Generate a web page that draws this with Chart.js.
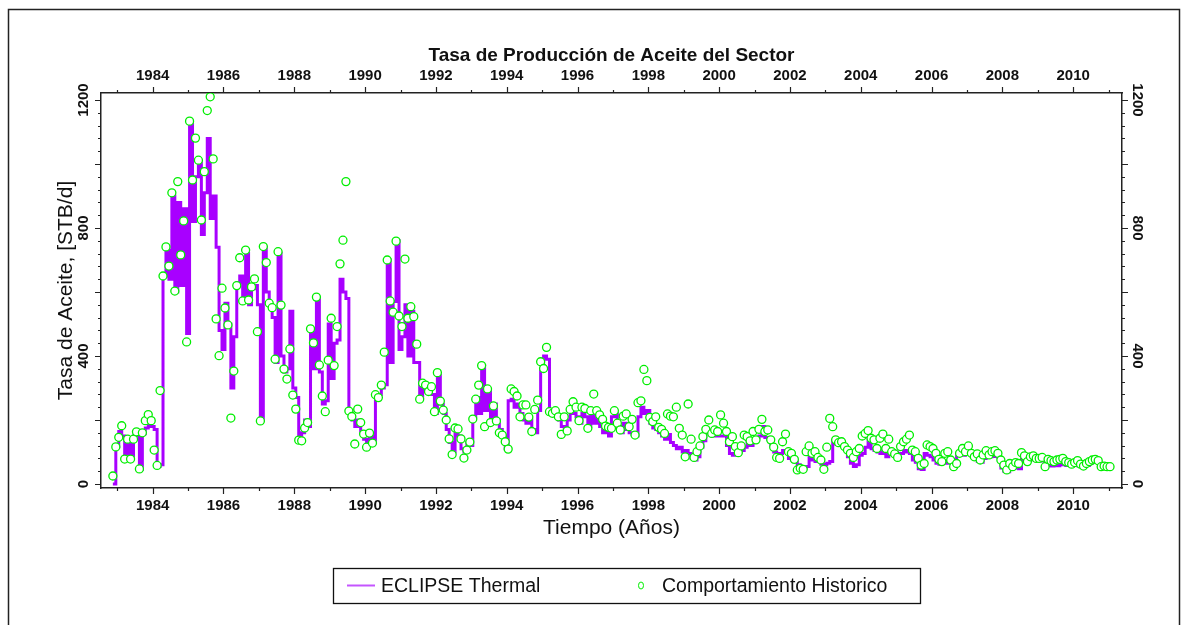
<!DOCTYPE html>
<html>
<head>
<meta charset="utf-8">
<title>Tasa de Producción de Aceite del Sector</title>
<script src="https://cdn.jsdelivr.net/npm/chart.js@4.4.1/dist/chart.umd.min.js"></script>
<style>
  html, body { margin: 0; padding: 0; background: #fff; overflow: hidden; }
  canvas { display: block; }
</style>
</head>
<body>
<canvas id="chartSector" width="1188" height="625"></canvas>
<script>
// monthly values, first one is Nov 1982
var startYear = 1982 + 10.5 / 12;

var simRate = [
  0, 117, // 1982
  164, 150, 80, 140, 80, 150, 155, 45, 157, 175, 185, 180, // 1983
  170, 55, 60, 650, 730, 640, 900, 600, 880, 620, 860, 470, // 1984
  1130, 820, 960, 1010, 780, 910, 1080, 830, 900, 740, 480, 420, // 1985
  565, 500, 300, 460, 630, 650, 580, 720, 560, 610, 620, 560, // 1986
  200, 740, 600, 560, 520, 380, 720, 400, 350, 360, 540, 300, // 1987
  270, 150, 160, 200, 180, 480, 360, 580, 350, 250, 260, 500, // 1988
  330, 440, 450, 640, 600, 580, 230, 200, 180, 200, 160, 140, // 1989
  125, 150, 130, 280, 280, 300, 310, 700, 380, 570, 760, 420, // 1990
  460, 560, 400, 540, 380, 380, 270, 300, 290, 310, 280, 220, // 1991
  340, 250, 220, 170, 130, 100, 170, 150, 110, 100, 130, 120, // 1992
  210, 270, 220, 370, 230, 290, 200, 250, 200, 170, 150, 110, // 1993
  260, 265, 240, 250, 220, 200, 190, 200, 170, 160, 230, 360, // 1994
  400, 390, 230, 220, 210, 200, 180, 170, 200, 230, 220, 210, // 1995
  190, 220, 210, 180, 220, 190, 210, 180, 160, 170, 150, 210, // 1996
  220, 180, 160, 190, 170, 160, 155, 150, 210, 240, 220, 230, // 1997
  190, 175, 170, 160, 150, 140, 155, 130, 120, 110, 115, 100, // 1998
  105, 95, 80, 75, 85, 115, 135, 160, 165, 150, 155, 150, // 1999
  150, 150, 120, 95, 90, 95, 100, 105, 115, 130, 120, 140, // 2000
  145, 150, 180, 145, 140, 120, 100, 90, 95, 105, 100, 80, // 2001
  75, 72, 60, 55, 50, 55, 110, 75, 70, 72, 62, 60, // 2002
  65, 70, 135, 125, 130, 120, 110, 85, 65, 55, 60, 90, // 2003
  95, 115, 140, 110, 105, 100, 95, 110, 85, 100, 105, 100, // 2004
  95, 95, 105, 100, 95, 75, 68, 48, 45, 95, 90, 85, // 2005
  75, 65, 62, 70, 65, 72, 65, 70, 88, 92, 90, 95, // 2006
  98, 90, 78, 70, 68, 80, 88, 85, 88, 86, 82, 50, // 2007
  40, 38, 48, 50, 52, 48, 82, 78, 75, 78, 76, 74, // 2008
  75, 72, 70, 58, 56, 58, 57, 62, 60, 58, 62, 60, // 2009
  58, 57, 56, 55, 58, 65, 68, 70, 66, 55, 54, 55, // 2010
  55 // 2011
];

var histRate = [
  25, 116, // 1982
  146, 182, 78, 140, 78, 140, 163, 47, 160, 198, 217, 198, // 1983
  106, 58, 292, 650, 741, 681, 910, 603, 945, 716, 822, 444, // 1984
  1134, 950, 1081, 1012, 825, 976, 1167, 1210, 1016, 516, 401, 612, // 1985
  550, 497, 206, 353, 620, 707, 572, 731, 575, 616, 641, 476, // 1986
  197, 742, 692, 565, 551, 390, 726, 559, 359, 328, 422, 278, // 1987
  234, 137, 135, 175, 192, 485, 441, 584, 372, 275, 226, 387, // 1988
  518, 370, 492, 688, 762, 945, 228, 211, 125, 234, 192, 156, // 1989
  115, 159, 128, 279, 270, 309, 412, 700, 572, 537, 759, 525, // 1990
  492, 703, 518, 554, 523, 437, 265, 315, 309, 289, 304, 226, // 1991
  348, 259, 231, 200, 141, 92, 175, 172, 141, 81, 106, 131, // 1992
  203, 265, 309, 370, 179, 297, 192, 244, 197, 160, 153, 132, // 1993
  109, 297, 289, 275, 210, 247, 247, 209, 164, 233, 262, 382, // 1994
  361, 427, 226, 221, 229, 210, 155, 210, 166, 233, 257, 240, // 1995
  198, 240, 236, 174, 229, 281, 229, 216, 202, 181, 177, 174, // 1996
  229, 190, 169, 212, 219, 179, 202, 153, 254, 260, 358, 323, // 1997
  208, 195, 210, 177, 171, 158, 219, 212, 210, 240, 174, 153, // 1998
  85, 250, 140, 83, 101, 119, 148, 171, 200, 158, 169, 164, // 1999
  216, 190, 164, 132, 148, 117, 98, 119, 153, 148, 135, 164, // 2000
  138, 171, 202, 164, 169, 138, 115, 83, 80, 132, 156, 101, // 2001
  96, 77, 44, 49, 46, 101, 119, 96, 101, 83, 75, 46, // 2002
  115, 205, 179, 138, 129, 132, 117, 106, 96, 83, 101, 111, // 2003
  150, 158, 167, 143, 138, 111, 143, 156, 111, 140, 101, 94, // 2004
  83, 117, 132, 140, 153, 106, 101, 80, 59, 64, 122, 117, // 2005
  111, 96, 77, 70, 96, 101, 75, 54, 64, 96, 111, 101, // 2006
  119, 96, 85, 94, 75, 91, 104, 91, 101, 104, 96, 75, // 2007
  59, 44, 64, 54, 67, 64, 98, 88, 70, 85, 88, 80, // 2008
  80, 83, 54, 77, 73, 70, 75, 77, 80, 70, 67, 62, // 2009
  67, 73, 62, 56, 64, 70, 75, 77, 73, 54, 56, 54, // 2010
  54 // 2011
];

var xTicks = [1984, 1986, 1988, 1990, 1992, 1994, 1996, 1998, 2000, 2002, 2004, 2006, 2008, 2010];
var yTicks = [0, 400, 800, 1200];

var font = '"Liberation Sans", Arial, sans-serif';
var tickFont = { family: font, size: 15, weight: 'bold', lineHeight: 1.2 };
var axisColor = '#222';

function toPoints(values) {
    return values.map((v, i) => ({ x: startYear + i / 12, y: v }));
}

// frame, minor/major tick marks and the boxed legend
var decorations = {
    id: 'decorations',
    beforeDraw(chart) {
        var c = chart.ctx;
        c.save();
        c.strokeStyle = axisColor;
        c.lineWidth = 1.5;
        c.strokeRect(8.5, 9.5, 1171, 640);
        c.restore();
    },
    afterDraw(chart) {
        var c = chart.ctx;
        var a = chart.chartArea;
        var sx = chart.scales.x;
        var sy = chart.scales.y;
        c.save();
        c.strokeStyle = axisColor;
        c.lineWidth = 1.2;
        c.beginPath();
        for (var yr = 1983; yr <= 2011; yr++) {
            var px = Math.round(sx.getPixelForValue(yr)) + 0.5;
            var len = yr % 2 === 0 ? 6 : 3;
            c.moveTo(px, a.bottom); c.lineTo(px, a.bottom + len);
            c.moveTo(px, a.top); c.lineTo(px, a.top - len);
        }
        for (var v = 0; v <= 1200; v += 40) {
            var py = Math.round(sy.getPixelForValue(v)) + 0.5;
            var l = v % 200 === 0 ? 6 : 3;
            c.moveTo(a.left, py); c.lineTo(a.left - l, py);
            c.moveTo(a.right, py); c.lineTo(a.right + l, py);
        }
        c.stroke();

        // legend
        var sim = chart.data.datasets[0];
        var hist = chart.data.datasets[1];
        var bx = 333, by = 568, bw = 587, bh = 35;
        var cy = by + bh / 2;
        c.lineWidth = 1.3;
        c.strokeStyle = '#111';
        c.strokeRect(bx + 0.5, by + 0.5, bw, bh);
        c.strokeStyle = '#c455ff';
        c.lineWidth = 2;
        c.beginPath(); c.moveTo(347, cy); c.lineTo(375, cy); c.stroke();
        c.strokeStyle = hist.borderColor;
        c.lineWidth = 1;
        c.beginPath(); c.ellipse(641, cy, 2.5, 3.5, 0, 0, Math.PI * 2); c.stroke();
        c.fillStyle = '#111';
        c.font = '19.5px ' + font;
        c.textBaseline = 'middle';
        c.fillText(sim.label, 381, cy + 1);
        c.fillText(hist.label, 662, cy + 1);
        c.restore();
    }
};

function xAxis(position, height, withTitle) {
    return {
        type: 'linear',
        axis: 'x',
        position: position,
        min: 1982.54,
        max: 2011.38,
        afterBuildTicks: s => { s.ticks = xTicks.map(v => ({ value: v })); },
        afterFit: s => { s.height = height; },
        ticks: { callback: v => String(v), font: tickFont, color: '#111', padding: 8.5, maxRotation: 0, autoSkip: false },
        grid: { display: false, drawTicks: false },
        border: { display: true, color: axisColor, width: 1.5 },
        title: {
            display: withTitle,
            text: 'Tiempo (Años)',
            font: { family: font, size: 21, lineHeight: 1.2 },
            color: '#111',
            padding: 0
        }
    };
}

function yAxis(position, rotation, pad, withTitle) {
    return {
        type: 'linear',
        axis: 'y',
        position: position,
        min: -12.5,
        max: 1221.9,
        afterBuildTicks: s => { s.ticks = yTicks.map(v => ({ value: v })); },
        afterFit: s => { s.width = 47; },
        ticks: { callback: v => String(v), font: tickFont, color: '#111', padding: pad, minRotation: rotation, maxRotation: rotation, crossAlign: 'center' },
        grid: { display: false, drawTicks: false },
        border: { display: true, color: axisColor, width: 1.5 },
        title: {
            display: withTitle,
            text: 'Tasa de Aceite, [STB/d]',
            font: { family: font, size: 21, lineHeight: 1.2 },
            color: '#111',
            padding: 0
        }
    };
}

var ctx = document.getElementById('chartSector').getContext('2d');

let sectorChart = new Chart(ctx, {
    type: 'line',
    data: {
        datasets: [{
            type: 'line',
            label: 'ECLIPSE Thermal',
            data: toPoints(simRate),
            borderColor: '#a800ff',
            borderWidth: 3,
            stepped: true,
            pointRadius: 0,
            order: 1
        }, {
            type: 'scatter',
            label: 'Comportamiento Historico',
            data: toPoints(histRate),
            borderColor: '#00ee00',
            backgroundColor: '#ffffff',
            borderWidth: 1.3,
            pointRadius: 4,
            order: 0
        }]
    },
    options: {
        responsive: false,
        animation: false,
        layout: { padding: { left: 54, right: 19, top: 46, bottom: 84 } },
        plugins: {
            legend: { display: false },
            tooltip: { enabled: false },
            title: {
                display: true,
                text: 'Tasa de Producción de Aceite del Sector',
                font: { family: font, size: 19, weight: 'bold', lineHeight: '20px' },
                color: '#111',
                padding: 0
            }
        },
        scales: {
            x: xAxis('bottom', 53, true),
            x2: xAxis('top', 27, false),
            y: yAxis('left', 90, 0, true),
            y2: yAxis('right', -90, -2, false)
        }
    },
    plugins: [decorations]
});
</script>
</body>
</html>
